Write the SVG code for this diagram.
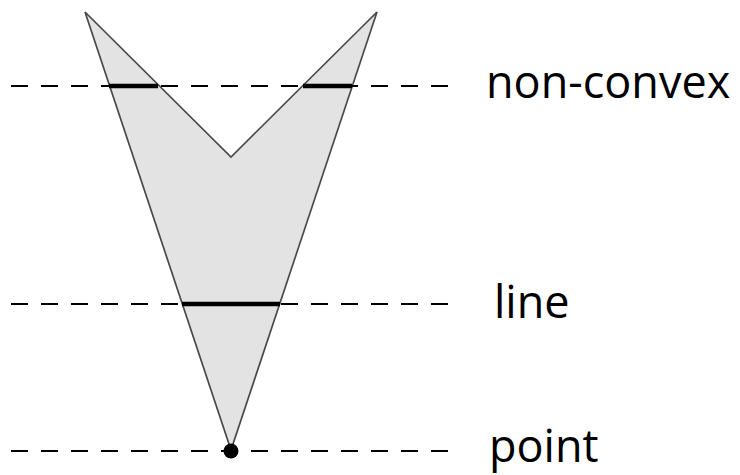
<svg xmlns="http://www.w3.org/2000/svg" width="740" height="475" viewBox="0 0 740 475">
<style>
.dash{stroke:#000;stroke-width:1.8;stroke-dasharray:17 13;fill:none}
.thick{stroke:#000;stroke-width:4.5;fill:none}
.lbl{font-family:"Open Sans","Liberation Sans",sans-serif;font-size:45px;fill:#000}
</style>
<rect width="740" height="475" fill="#fff"/>
<g id="shape">
<polygon points="85,12 231,157 377,12 231,450" fill="#e3e3e3" stroke="#4a4a4a" stroke-width="1.7" stroke-linejoin="miter"/>
</g>
<g id="connectors">
<line class="dash" x1="11" y1="86" x2="452" y2="86"/>
<line class="dash" x1="11" y1="304" x2="452" y2="304"/>
<line class="dash" x1="11" y1="451" x2="452" y2="451"/>
<line class="thick" x1="109" y1="86" x2="158" y2="86"/>
<line class="thick" x1="303" y1="86" x2="352" y2="86"/>
<line class="thick" x1="182" y1="304" x2="280" y2="304"/>
</g>
<g id="point"><circle cx="231" cy="451" r="7.5" fill="#000"/></g>
<g id="labels">
<text class="lbl" x="486" y="98">non-convex</text>
<text class="lbl" x="494" y="318">line</text>
<text class="lbl" x="489" y="462">point</text>
</g>
</svg>
